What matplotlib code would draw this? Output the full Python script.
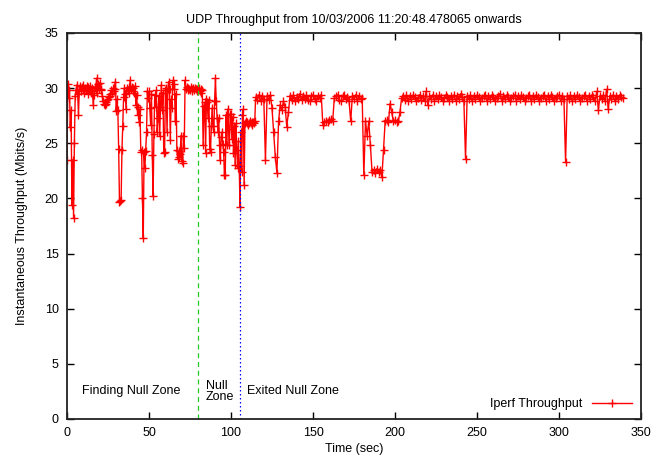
import numpy as np
import matplotlib
matplotlib.use("Agg")
import matplotlib.pyplot as plt

plt.rcParams["font.family"] = ["Liberation Sans", "DejaVu Sans"]

# samples every 0.5 s up to 115 s, then every 1 s
t_early = np.arange(0, 115, 0.5)
t_late = np.arange(115, 340, 1)

tput_early = [
    23.5, 30.4, 29.1, 29.8, 26.5, 28.0, 19.4, 23.5, 18.2, 25.0,
    29.3, 29.8, 30.3, 29.5, 27.6, 29.9, 30.2, 29.7, 30.1, 29.8,
    30.3, 29.6, 30.0, 29.8, 30.2, 29.5, 30.1, 29.9, 30.2, 29.6,
    30.0, 29.7, 28.5, 29.4, 30.1, 29.8, 30.9, 29.6, 30.4, 29.9,
    30.5, 29.8, 29.9, 29.3, 28.8, 28.6, 28.5, 28.7, 28.6, 28.9,
    29.0, 29.2, 29.5, 29.3, 29.8, 29.6, 30.0, 29.7, 29.9, 30.6,
    27.9, 29.0, 28.0, 24.5, 19.7, 19.8, 19.9, 24.4, 26.6, 29.2,
    30.0, 29.5, 28.1, 30.0, 29.8, 30.1, 29.6, 30.7, 29.9, 30.1,
    29.7, 30.0, 29.6, 30.2, 28.5, 29.4, 27.6, 28.3, 26.9, 28.1,
    24.2, 24.4, 20.0, 16.4, 24.2, 22.8, 24.3, 26.0, 29.7, 29.1,
    29.7, 28.2, 26.7, 29.5, 23.9, 20.2, 25.8, 29.4, 28.3, 29.8,
    26.0, 27.3, 29.3, 25.7, 28.3, 30.3, 28.0, 29.6, 24.1, 24.2,
    29.8, 30.0, 26.0, 29.9, 30.6, 29.9, 25.3, 29.0, 28.2, 30.7,
    29.9, 30.4, 27.0, 29.5, 24.4, 23.6, 24.3, 23.8, 24.0, 25.7,
    23.4, 23.2, 25.7, 24.6, 30.7, 29.9, 30.1, 29.8, 30.0, 29.9,
    29.8, 30.1, 29.9, 29.7, 30.0, 29.8, 30.0, 29.9, 29.7, 29.9,
    29.8, 30.0, 29.7, 29.9, 29.6, 29.8, 24.8, 28.4, 28.7, 24.1,
    29.0, 28.7, 27.3, 28.9, 24.5, 24.2, 26.6, 28.2, 26.6, 26.0,
    28.8, 30.9, 28.8, 27.3, 26.0, 27.3, 24.8, 23.5, 25.6, 26.0,
    24.9, 24.2, 22.1, 22.1, 27.6, 24.8, 28.1, 26.3, 24.8, 27.7,
    27.7, 25.4, 27.4, 24.1, 26.6, 23.0, 26.8, 24.4, 22.8, 25.2,
    22.9, 19.2, 26.0, 22.4, 27.6, 28.1, 21.2, 26.8, 27.0, 26.8,
    26.9, 26.7, 26.8, 27.0, 26.8, 26.9, 26.7, 26.9, 26.8, 27.0,
]

tput_late = [
    29.2, 28.9, 29.4, 28.8, 29.3, 29.0, 23.5, 29.3, 28.9, 29.4,
    28.2, 26.0, 23.8, 22.3, 27.0, 28.5, 28.0, 28.8, 28.3, 26.5,
    27.8, 29.3, 28.9, 29.4, 28.8, 29.2, 29.0, 29.5, 28.9, 29.3,
    29.0, 29.4, 28.9, 28.8, 29.3, 29.4, 29.0, 28.8, 29.3, 29.1,
    29.4, 26.7, 26.9, 27.0, 26.9, 27.1, 27.2, 27.0, 29.1, 29.3,
    29.4, 28.9, 28.8, 29.3, 29.4, 29.0, 29.2, 28.8, 27.0, 29.3,
    29.0, 29.4, 28.8, 29.3, 29.0, 29.1, 22.1, 27.0, 25.7, 27.0,
    24.8, 22.4, 22.6, 22.3, 22.7, 22.4, 22.6, 21.9, 24.4, 27.0,
    27.1, 26.9, 28.6, 27.8, 27.0, 27.1, 26.9, 27.0, 27.8, 29.1,
    29.3, 28.9, 29.4, 28.8, 29.3, 29.0, 29.4, 29.2, 28.8, 29.1,
    29.4, 28.9, 29.3, 28.8, 29.7, 28.5, 29.3, 29.0, 29.4, 28.8,
    29.3, 29.0, 29.4, 29.2, 28.8, 29.1, 29.4, 29.2, 28.8, 29.3,
    29.0, 29.4, 28.8, 29.3, 29.0, 29.5, 29.2, 28.8, 23.6, 29.3,
    29.0, 29.4, 28.8, 29.3, 29.0, 29.4, 29.2, 28.8, 29.1, 29.3,
    29.4, 28.8, 29.3, 29.0, 29.4, 29.2, 28.8, 29.1, 29.3, 29.5,
    28.8, 29.3, 29.0, 29.4, 29.2, 28.8, 29.1, 29.3, 29.4, 28.8,
    29.3, 29.0, 29.4, 29.2, 28.8, 29.1, 29.3, 29.4, 28.8, 29.3,
    29.0, 29.4, 29.2, 28.8, 29.1, 29.3, 29.4, 28.8, 29.3, 29.0,
    29.4, 29.2, 28.8, 29.1, 29.3, 29.4, 28.8, 29.3, 29.0, 23.3,
    29.3, 29.0, 29.4, 28.8, 29.3, 29.0, 29.4, 29.2, 28.8, 29.1,
    29.3, 29.4, 28.8, 29.3, 29.0, 29.4, 29.2, 28.8, 29.7, 28.0,
    29.3, 29.0, 29.4, 28.8, 29.9, 28.1, 29.3, 29.0, 29.4, 28.8,
    29.3, 29.0, 29.4, 29.2, 29.1,
]

time = np.concatenate([t_early, t_late])
tput = np.array(tput_early + tput_late)

null_start = 80
null_end = 105.5

fig = plt.figure(figsize=(6.68, 4.57), dpi=100)
ax = fig.add_axes([0.1003, 0.0832, 0.8593, 0.8446])

ax.plot(time, tput, color="red", lw=1, marker="+", ms=6, mew=1,
        label="Iperf Throughput")
ax.axvline(null_start, color="#22cc22", ls=(0, (4, 3)), lw=0.9)
ax.axvline(null_end, color="blue", ls=(0, (1.2, 2)), lw=0.9)

ax.text(9, 2.5, "Finding Null Zone", fontsize=9, va="center")
ax.text(84.5, 2.5, "Null\nZone", fontsize=9, va="center", linespacing=0.85)
ax.text(109.5, 2.5, "Exited Null Zone", fontsize=9, va="center")

ax.set_xlim(0, 350)
ax.set_ylim(0, 35)
ax.set_xticks(np.arange(0, 351, 50))
ax.set_yticks(np.arange(0, 36, 5))
ax.tick_params(direction="in", length=5, width=1, top=True, right=True,
               labelsize=9, pad=6)
for s in ax.spines.values():
    s.set_linewidth(1.3)
    s.set_color("#222222")

ax.set_title("UDP Throughput from 10/03/2006 11:20:48.478065 onwards",
             fontsize=9, pad=7)
ax.set_xlabel("Time (sec)", fontsize=9, labelpad=3)
ax.set_ylabel("Instantaneous Throughput (Mbits/s)", fontsize=9, labelpad=12)

ax.legend(loc="lower right", frameon=False, markerfirst=False, fontsize=9,
          handlelength=3.2, borderaxespad=0.3)

fig.savefig("out.png", dpi=100)
